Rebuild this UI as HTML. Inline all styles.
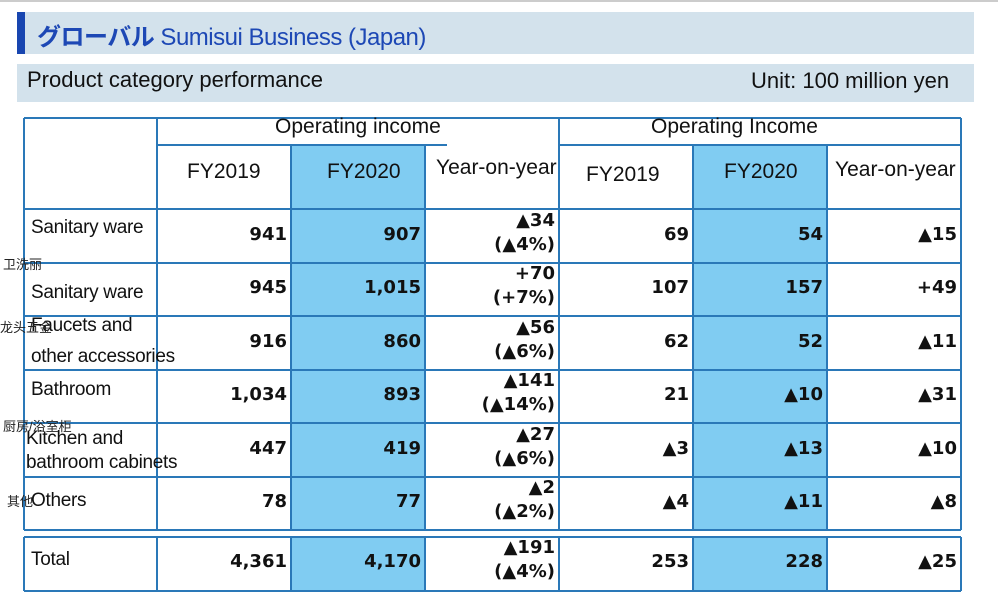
<!DOCTYPE html><html><head><meta charset="utf-8"><style>
body{margin:0;width:998px;height:603px;background:#fff;position:relative;overflow:hidden;font-family:"Liberation Sans","Noto Sans CJK JP",sans-serif}
.a{position:absolute;white-space:nowrap}
.n{position:absolute;font-family:"DejaVu Sans",sans-serif;font-weight:bold;font-size:18px;text-align:right;white-space:nowrap;color:#111}
.l{position:absolute;font-size:19px;color:#111;white-space:nowrap;line-height:30px;letter-spacing:-0.3px}
.h{position:absolute;font-size:21px;color:#111;white-space:nowrap}
.z{position:absolute;font-size:13px;color:#222;white-space:nowrap}
</style></head><body>
<div class="a" style="left:0;top:0;width:998px;height:2px;background:#ccc"></div>
<div class="a" style="left:17px;top:12px;width:957px;height:42px;background:#d3e2ec"></div>
<div class="a" style="left:17px;top:12px;width:8px;height:42px;background:#1846b0"></div>
<div class="a" style="left:37px;top:17px;font-size:24px;color:#1d48b5;letter-spacing:-0.5px"><b>グローバル</b> Sumisui Business (Japan)</div>
<div class="a" style="left:17px;top:64px;width:957px;height:38px;background:#d3e2ec"></div>
<div class="a" style="left:27px;top:67px;font-size:22px;color:#111">Product category performance</div>
<div class="a" style="left:751px;top:68px;font-size:22px;color:#111">Unit: 100 million yen</div>
<svg class="a" style="left:0;top:0" width="998" height="603">
<g fill="#80ccf2"><rect x="291" y="145" width="134" height="385"/><rect x="693" y="145" width="134" height="385"/><rect x="291" y="538" width="134" height="53"/><rect x="693" y="538" width="134" height="53"/></g>
<g stroke="#2a78b8" stroke-width="2" fill="none">
<line x1="24" y1="118" x2="961" y2="118"/>
<line x1="157" y1="145" x2="447" y2="145"/>
<line x1="559" y1="145" x2="961" y2="145"/>
<line x1="24" y1="209" x2="961" y2="209"/>
<line x1="24" y1="263" x2="961" y2="263"/>
<line x1="24" y1="316" x2="961" y2="316"/>
<line x1="24" y1="370" x2="961" y2="370"/>
<line x1="24" y1="423" x2="961" y2="423"/>
<line x1="24" y1="477" x2="961" y2="477"/>
<line x1="24" y1="530" x2="961" y2="530"/>
<line x1="24" y1="537" x2="961" y2="537"/>
<line x1="24" y1="591" x2="961" y2="591"/>
<line x1="24" y1="118" x2="24" y2="530"/><line x1="24" y1="537" x2="24" y2="591"/>
<line x1="157" y1="118" x2="157" y2="530"/><line x1="157" y1="537" x2="157" y2="591"/>
<line x1="291" y1="145" x2="291" y2="530"/><line x1="291" y1="537" x2="291" y2="591"/>
<line x1="425" y1="145" x2="425" y2="530"/><line x1="425" y1="537" x2="425" y2="591"/>
<line x1="559" y1="118" x2="559" y2="530"/><line x1="559" y1="537" x2="559" y2="591"/>
<line x1="693" y1="145" x2="693" y2="530"/><line x1="693" y1="537" x2="693" y2="591"/>
<line x1="827" y1="145" x2="827" y2="530"/><line x1="827" y1="537" x2="827" y2="591"/>
<line x1="961" y1="118" x2="961" y2="530"/><line x1="961" y1="537" x2="961" y2="591"/>
</g></svg>
<div class="h" style="left:275px;top:115px">Operating income</div>
<div class="h" style="left:651px;top:115px">Operating Income</div>
<div class="h" style="left:187px;top:160px">FY2019</div>
<div class="h" style="left:327px;top:160px">FY2020</div>
<div class="h" style="left:436px;top:156px">Year-on-year</div>
<div class="h" style="left:586px;top:163px">FY2019</div>
<div class="h" style="left:724px;top:160px">FY2020</div>
<div class="h" style="left:835px;top:158px">Year-on-year</div>

<div class="l" style="left:31px;top:213px">Sanitary ware</div>
<div class="l" style="left:31px;top:278px">Sanitary ware</div>
<div class="l" style="left:31px;top:311px">Faucets and</div>
<div class="l" style="left:31px;top:342px">other accessories</div>
<div class="l" style="left:31px;top:375px">Bathroom</div>
<div class="l" style="left:26px;top:424px">Kitchen and</div>
<div class="l" style="left:26px;top:448px">bathroom cabinets</div>
<div class="l" style="left:31px;top:486px">Others</div>
<div class="l" style="left:31px;top:545px">Total</div>
<div class="z" style="left:3px;top:254px">卫洗丽</div>
<div class="z" style="left:0px;top:317px">龙头五金</div>
<div class="z" style="left:3px;top:416px">厨房/浴室柜</div>
<div class="z" style="left:7px;top:491px">其他</div>

<div id="d"></div>
<script>
var rows=[[236,"941","907","▲34","(▲4%)","69","54","▲15"],[289,"945","1,015","+70","(+7%)","107","157","+49"],[343,"916","860","▲56","(▲6%)","62","52","▲11"],[396,"1,034","893","▲141","(▲14%)","21","▲10","▲31"],[450,"447","419","▲27","(▲6%)","▲3","▲13","▲10"],[503,"78","77","▲2","(▲2%)","▲4","▲11","▲8"],[563,"4,361","4,170","▲191","(▲4%)","253","228","▲25"]];
var h="";rows.forEach(function(r){var y=r[0];
function n(right,t,yy){h+='<div class="n" style="right:'+(998-right)+'px;top:'+(yy-12)+'px">'+t+'</div>';}
n(287,r[1],y);n(421,r[2],y);n(555,r[3],y-14);n(555,r[4],y+10);n(689,r[5],y);n(823,r[6],y);n(957,r[7],y);});
document.getElementById("d").innerHTML=h;
</script>
</body></html>
